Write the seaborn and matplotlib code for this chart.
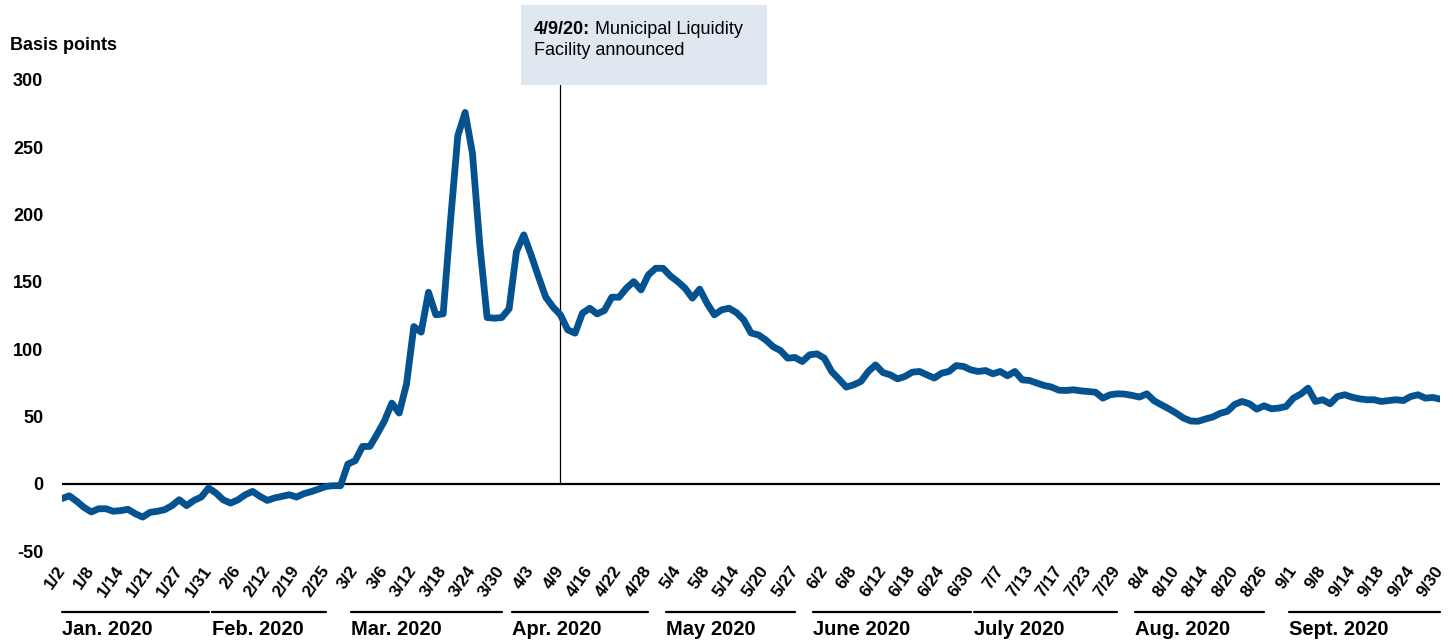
import numpy as np
import pandas as pd
import matplotlib
matplotlib.use("Agg")
import matplotlib.pyplot as plt
import matplotlib.transforms as mtransforms
from matplotlib.lines import Line2D
from matplotlib.patches import Rectangle
import seaborn as sns

# bond-market holidays (SIFMA) skipped in the daily series
holidays = ["2020-01-20", "2020-02-17", "2020-04-10", "2020-05-25", "2020-07-03", "2020-09-07"]

# spread, basis points, one value per trading day
jan = [-11, -9, -13, -17.6, -21, -18.6, -18.6, -20.5, -20, -19, -22.3, -24.8, -21.3,
       -20.5, -19.3, -16.3, -11.9, -16.3, -12.4, -9.9, -3.2]
feb = [-6.9, -12, -14.4, -12, -8.2, -5.7, -9.4, -12.4, -10.6, -9.4, -8.2, -9.9, -7.4,
       -5.9, -4.0, -2, -1.5, -1.5, 14.6]
mar = [17.1, 27.7, 27.7, 36.9, 46.8, 59.9, 52.5, 74, 116.8, 112.6, 142.3, 125.5, 126.2,
       195, 258.6, 275.9, 245.5, 177.4, 123.5, 123, 123.5, 130]
apr = [172.5, 184.9, 170, 153.9, 138.6, 131.2, 125.5, 114.3, 111.9, 126.7, 130.4, 126.2,
       128.7, 138.6, 138.6, 145.3, 150.2, 144, 155.2, 160.1, 160.1]
may = [154.4, 150.2, 145.3, 137.9, 144.6, 134.1, 125.5, 129.2, 130.4, 127.2, 121.8, 112,
       110.6, 106.9, 101.9, 99, 93.3, 93.8, 90.8, 95.8]
jun = [96.5, 93.3, 83.4, 77.7, 71.8, 73.5, 76, 83.4, 88.3, 82.6, 80.9, 77.9, 79.7, 82.9,
       83.4, 80.9, 78.5, 82.1, 83.4, 87.8, 87.1, 84.6]
jul = [83.4, 84.1, 81.7, 83.4, 80.2, 83.4, 77.2, 76.7, 74.8, 73, 71.8, 69.5, 69.3, 69.8,
       69, 68.5, 68, 63.6, 66.1, 66.8, 66.6, 65.6]
aug = [64.4, 66.8, 61.6, 58.6, 55.7, 52.5, 48.8, 46.6, 46.4, 48.1, 49.6, 52.3, 53.8, 59,
       61.1, 59.4, 55.4, 57.9, 55.7, 56.2, 57.4]
sep = [63.6, 66.6, 71, 61.1, 62.4, 59.4, 64.8, 66.1, 64.3, 63.1, 62.4, 62.4, 61.1, 61.8,
       62.4, 61.8, 64.8, 66.1, 63.6, 64.1, 62.9]

month_names = ["Jan. 2020", "Feb. 2020", "Mar. 2020", "Apr. 2020", "May 2020",
               "June 2020", "July 2020", "Aug. 2020", "Sept. 2020"]
event_date = "2020-04-09"
event_bold = "4/9/20:"
event_line1 = " Municipal Liquidity"
event_line2 = "Facility announced"
tick_every = 4

BLUE = "#04528f"

values = jan + feb + mar + apr + may + jun + jul + aug + sep
dates = pd.bdate_range("2020-01-02", "2020-09-30", freq="C", holidays=holidays)
df = pd.DataFrame({"idx": np.arange(len(dates)), "date": dates, "bp": values})

sns.set_style("white")
plt.rcParams["font.family"] = ["Liberation Sans", "DejaVu Sans"]
plt.rcParams["axes.unicode_minus"] = False
plt.rcParams["text.color"] = "black"
plt.rcParams["xtick.color"] = "black"
plt.rcParams["ytick.color"] = "black"

fig = plt.figure(figsize=(14.53, 6.43), dpi=100)
ax = fig.add_axes([62 / 1453, 92 / 643, 1378 / 1453, 471 / 643])

ax.axhline(0, color="black", lw=1.6, zorder=1)
sns.lineplot(data=df, x="idx", y="bp", ax=ax, color=BLUE, linewidth=4.9, zorder=3)

ax.set_xlim(0, len(df) - 1)
ax.set_ylim(-50, 300)
ax.set_yticks(np.arange(-50, 301, 50))
ax.set_xlabel("")
ax.set_ylabel("")
for s in ax.spines.values():
    s.set_visible(False)

ticks = df["idx"].values[::tick_every]
tick_labels = [f"{d.month}/{d.day}" for d in df["date"].iloc[::tick_every]]
ax.set_xticks(ticks)
ax.set_xticklabels(tick_labels, rotation=55, ha="right", va="center",
                   rotation_mode="anchor", fontweight="bold", fontsize=12.5)
ax.tick_params(axis="x", length=0, pad=12, colors="black")
ax.tick_params(axis="y", length=0, pad=13.5, labelsize=13, colors="black")
for lab in ax.get_yticklabels():
    lab.set_fontweight("bold")

# month brackets under the tick labels
blend = mtransforms.blended_transform_factory(ax.transData, ax.transAxes)
df["month"] = df["date"].dt.month
for k, (m, grp) in enumerate(df.groupby("month")):
    start = max(grp["idx"].min() - 0.6, 0)
    in_month = [t for t in ticks if t in set(grp["idx"])]
    end = in_month[-1]
    ax.add_line(Line2D([start, end], [-0.1295, -0.1295], transform=blend,
                       color="black", lw=1.6, clip_on=False))
    ax.text(start, -0.167, month_names[k], transform=blend, ha="left", va="center",
            fontweight="bold", fontsize=14.5, color="black")

# event marker and note box
ev = df.loc[df["date"] == pd.Timestamp(event_date), "idx"].iloc[0]
ax.axvline(ev, ymin=50 / 350, ymax=0.989, color="black", lw=0.9, zorder=2, clip_on=False)
ax.add_patch(Rectangle((ev - 5.4, 0.989), 33.6, 0.17, transform=blend,
                       facecolor="#dfe7f0", edgecolor="none", clip_on=False))
t1 = ax.text(ev - 3.6, 1.0977, event_bold, transform=blend, ha="left", va="baseline",
             fontweight="bold", fontsize=13, color="black")
ax.annotate(event_line1, xy=(1, 0), xycoords=t1, ha="left", va="bottom", fontsize=13,
            color="black")
ax.text(ev - 3.6, 1.053, event_line2, transform=blend, ha="left", va="baseline",
        fontsize=13, color="black")

fig.text(10 / 1453, 1 - 45 / 643, "Basis points", ha="left", va="center",
         fontweight="bold", fontsize=13, color="black")

fig.savefig("out.png", dpi=100)
